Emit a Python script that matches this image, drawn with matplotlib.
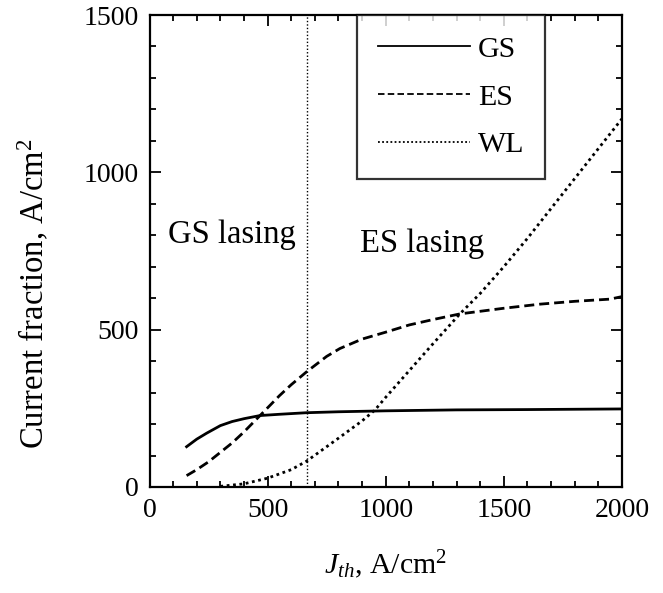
import matplotlib
matplotlib.use("Agg")
import matplotlib.pyplot as plt
from matplotlib.ticker import MultipleLocator

# data (J in A/cm^2, current fraction in A/cm^2)
gs_j = [157, 200, 242, 300, 350, 400, 468, 550, 665, 800, 1000, 1300, 1600, 2000]
gs_i = [128, 152, 171, 195, 208, 217, 227, 231, 236, 239, 242, 245, 246, 248]

es_j = [157, 200, 250, 300, 350, 400, 468, 550, 600, 665, 750, 806, 900, 1000,
        1100, 1200, 1314, 1500, 1653, 1800, 1950, 2000]
es_i = [36, 55, 80, 110, 140, 175, 227, 290, 325, 366, 415, 440, 470, 492,
        515, 532, 550, 568, 581, 590, 597, 605]

wl_j = [300, 400, 500, 600, 665, 800, 900, 955, 1000, 1100, 1200, 1314, 1400,
        1500, 1600, 1700, 1800, 1900, 2000]
wl_i = [2, 10, 28, 55, 82, 155, 210, 245, 285, 370, 455, 550, 615, 700, 790,
        885, 980, 1075, 1170]

j_boundary = 668

plt.rcParams["font.family"] = ["Liberation Serif", "DejaVu Serif"]
plt.rcParams["mathtext.fontset"] = "custom"
plt.rcParams["mathtext.rm"] = "Liberation Serif"
plt.rcParams["mathtext.it"] = "Liberation Serif:italic"

fig = plt.figure(figsize=(6.63, 5.93), dpi=100)
ax = fig.add_axes([0.2255, 0.1788, 0.938 - 0.2255, 0.9747 - 0.1788])

ax.plot(gs_j, gs_i, color="black", linewidth=2, linestyle="-", label="GS")
ax.plot(es_j, es_i, color="black", linewidth=2, linestyle=(0, (3.6, 1.8)), label="ES")
ax.plot(wl_j, wl_i, color="black", linewidth=2, linestyle=(0, (1, 1.3)), label="WL")
ax.axvline(j_boundary, color="black", linewidth=1, linestyle=(0, (1, 1.5)))

ax.text(78, 775, "GS lasing", fontsize=23.5, va="baseline", ha="left")
ax.text(891, 747, "ES lasing", fontsize=23.5, va="baseline", ha="left")

ax.set_xlim(0, 2000)
ax.set_ylim(0, 1500)
ax.xaxis.set_major_locator(MultipleLocator(500))
ax.xaxis.set_minor_locator(MultipleLocator(100))
ax.yaxis.set_major_locator(MultipleLocator(500))
ax.yaxis.set_minor_locator(MultipleLocator(100))
ax.tick_params(which="both", direction="in", top=True, right=True,
               labelsize=20, width=1.3, pad=8)
ax.tick_params(which="major", length=8)
ax.tick_params(which="minor", length=4)
for s in ax.spines.values():
    s.set_linewidth(1.6)

ax.set_xlabel(r"$J_{th}$, A/cm$^2$", fontsize=21.5, labelpad=18)
ax.set_ylabel(r"Current fraction, A/cm$^2$", fontsize=23.5)
ax.yaxis.set_label_coords(-0.207, 0.409)

leg = ax.legend(loc="upper left", bbox_to_anchor=(0.439, 1.0), fontsize=21.5,
                frameon=True, fancybox=False, handlelength=3.1,
                handletextpad=0.25, borderpad=0.7, labelspacing=0.7,
                borderaxespad=0)
leg.get_frame().set_edgecolor("black")
leg.get_frame().set_linewidth(1.6)
for line in leg.get_lines():
    line.set_linewidth(1.3)

fig.savefig("out.png", dpi=100)
